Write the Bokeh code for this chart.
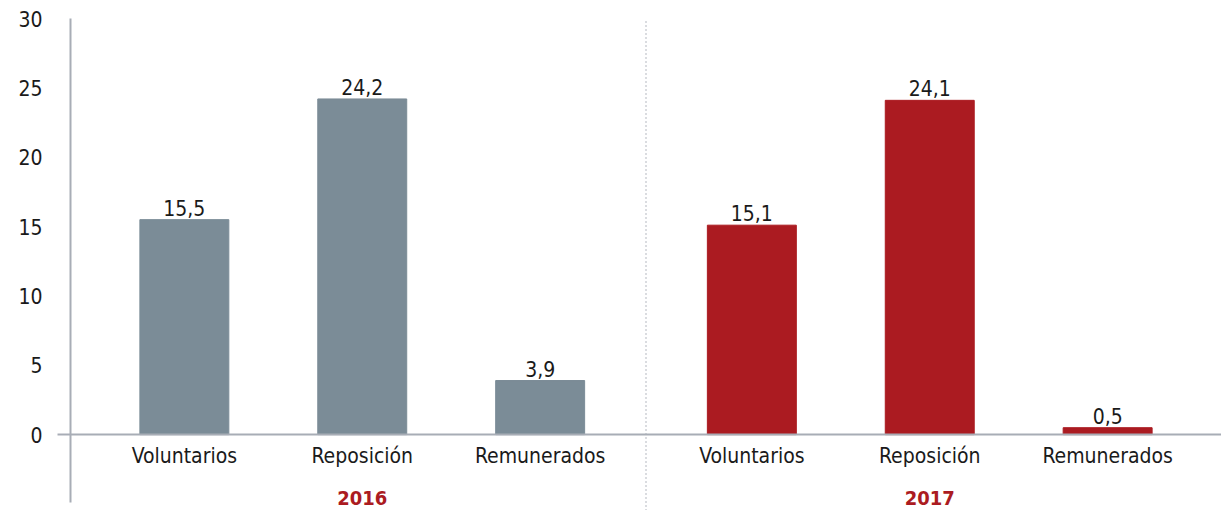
from bokeh.plotting import figure
from bokeh.models import FactorRange, Range1d, ColumnDataSource, FixedTicker, LinearAxis
from bokeh.embed import file_html
from bokeh.resources import INLINE
from bokeh.core.properties import value

# ---- data ----
years = ["2016", "2017"]
categories = ["Voluntarios", "Reposición", "Remunerados"]
values_2016 = [15.5, 24.2, 3.9]
values_2017 = [15.1, 24.1, 0.5]
y_ticks = [0, 5, 10, 15, 20, 25, 30]

# ---- styles ----
FONT = "DejaVu Sans Condensed"
GRAY_BAR = "#7b8c97"
RED_BAR = "#ab1b21"
AXIS_GRAY = "#a8adb6"
TEXT = "#1a1a1a"
GROUP_PAD = 0.19
Y_START, Y_END = -5.47, 30
AXIS_LINE_BOTTOM = -4.9

year_colors = {"2016": GRAY_BAR, "2017": RED_BAR}
x = [(yr, c) for yr in years for c in categories]
vals = values_2016 + values_2017
labels = [f"{v:.1f}".replace(".", ",") for v in vals]
colors = [year_colors[yr] for yr, _ in x]

src = ColumnDataSource(dict(x=x, top=vals, label=labels, color=colors))

p = figure(
    x_range=FactorRange(*x, group_padding=GROUP_PAD, range_padding=0.14,
                        range_padding_units="absolute"),
    y_range=Range1d(Y_START, Y_END),
    width=1221, height=510,
    min_border_left=70, min_border_right=0, min_border_top=18, min_border_bottom=0,
    output_backend="svg", toolbar_location=None,
)
p.outline_line_color = None
p.xgrid.grid_line_color = None
p.ygrid.grid_line_color = None
p.background_fill_color = "white"

p.vbar(x="x", top="top", width=0.5, color="color", source=src)

p.text(x="x", y="top", text="label", source=src, y_offset=-4,
       text_align="center", text_baseline="bottom",
       text_font=value(FONT), text_font_size="21px", text_color=TEXT)

# year labels, centred under each group, below the category labels
mid = categories[len(categories) // 2]
p.text(x=[(yr, mid) for yr in years], y=[0] * len(years), text=years,
       y_offset=63, text_align="center", text_baseline="middle",
       text_font=value(FONT), text_font_size="20px", text_font_style="bold",
       text_color=RED_BAR)

# dotted separator between years
sep = ("2016", categories[-1], 0.5 + GROUP_PAD / 2)
p.segment(x0=[sep], y0=[Y_START], x1=[sep], y1=[Y_END],
          line_color="#9ea3ad", line_width=1.5, line_dash="1 3")

# x axis at zero
xa = p.xaxis[0]
xa.fixed_location = 0
xa.axis_line_color = AXIS_GRAY
xa.axis_line_width = 2
xa.major_tick_line_color = None
xa.minor_tick_line_color = None
xa.major_label_text_font = FONT
xa.major_label_text_font_size = "21px"
xa.major_label_text_color = TEXT
xa.major_label_standoff = 3
xa.group_text_font_size = "0px"
xa.group_text_color = None
xa.separator_line_color = None

# y axis: labels only (outer)
ya = p.yaxis[0]
ya.ticker = FixedTicker(ticks=y_ticks)
ya.axis_line_color = None
ya.major_tick_line_color = None
ya.minor_tick_line_color = None
ya.major_label_text_font = FONT
ya.major_label_text_font_size = "21px"
ya.major_label_text_color = TEXT
ya.major_label_standoff = 9

# inner y axis: axis line and the outward stub of the zero line
ya_line = LinearAxis(ticker=FixedTicker(ticks=[0]), axis_line_color=AXIS_GRAY,
                     axis_line_width=2, major_tick_line_color=AXIS_GRAY,
                     major_tick_line_width=2, major_tick_out=13, major_tick_in=0,
                     minor_tick_line_color=None, major_label_overrides={0: ""},
                     major_label_standoff=0, bounds=(AXIS_LINE_BOTTOM, Y_END))
p.left = [ya_line, ya]

open("out.html", "w").write(file_html(p, INLINE))
